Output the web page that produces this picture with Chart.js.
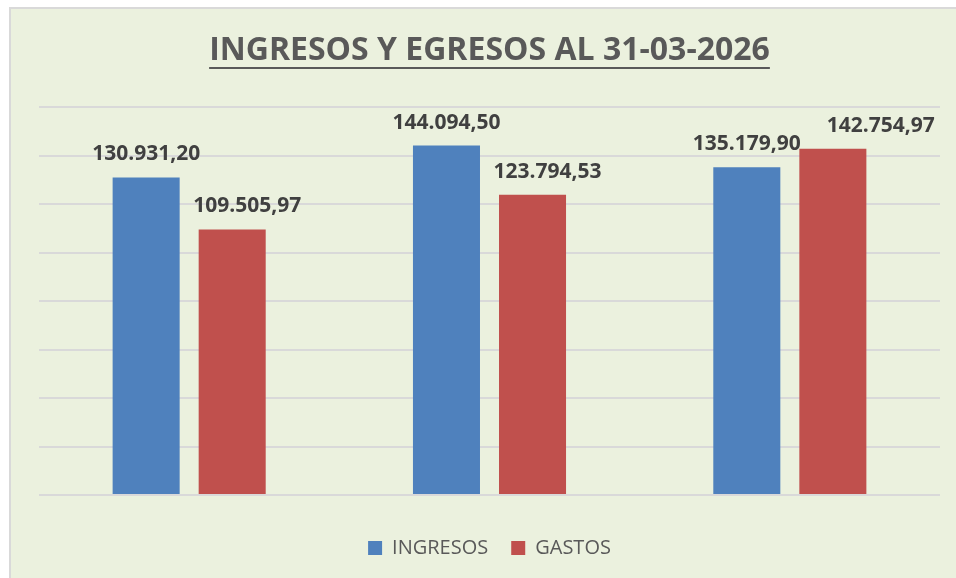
<!DOCTYPE html>
<html>
<head>
<meta charset="utf-8">
<script src="https://cdn.jsdelivr.net/npm/chart.js@4.4.1/dist/chart.umd.min.js"></script>
<style>
    html, body { margin: 0; padding: 0; background: #ffffff; overflow: hidden; }
    #frame {
        position: absolute; left: 9px; top: 7px; width: 980px; height: 600px;
        background: #EBF1DE; border: 2px solid #D9D9D9;
    }
    #chart { position: absolute; left: 0; top: 0; }
</style>
</head>
<body>
<div id="frame"></div>
<canvas id="chart" width="956" height="578"></canvas>
<script>
/* ==================== Data ==================== */
const categories = ['', '', ''];
const ingresos = [130931.20, 144094.50, 135179.90];
const gastos = [109505.97, 123794.53, 142754.97];
const yMin = 0;
const yMax = 160000;
const yStep = 20000;

const TITLE = 'INGRESOS Y EGRESOS AL 31-03-2026';
const FONT = "'Open Sans', 'DejaVu Sans', sans-serif";

// horizontal nudges of the value labels, as placed in the original sheet
const LABEL_SHIFT = [[0, 0, 0], [15, 15, 48]];

/* ==================== Helpers ==================== */
function formatEs(v) {
    const parts = v.toFixed(2).split('.');
    const int = parts[0].replace(/\B(?=(\d{3})+(?!\d))/g, '.');
    return int + ',' + parts[1];
}

/* ==================== Plugins ==================== */
const underlineTitle = {
    id: 'underlineTitle',
    afterDraw(chart) {
        const tb = chart.titleBlock;
        if (!tb) return;
        const ctx = chart.ctx;
        ctx.save();
        ctx.font = "bold 32px " + FONT;
        const w = ctx.measureText(TITLE).width;
        const cx = (tb.left + tb.right) / 2;
        ctx.fillStyle = '#595959';
        ctx.fillRect(cx - w / 2, 67, w, 2);
        ctx.restore();
    }
};

const valueLabels = {
    id: 'valueLabels',
    afterDatasetsDraw(chart) {
        const ctx = chart.ctx;
        ctx.save();
        ctx.font = "bold 21px " + FONT;
        ctx.fillStyle = '#404040';
        ctx.textAlign = 'center';
        ctx.textBaseline = 'alphabetic';
        chart.data.datasets.forEach((ds, di) => {
            chart.getDatasetMeta(di).data.forEach((bar, i) => {
                ctx.fillText(formatEs(ds.data[i]), bar.x + LABEL_SHIFT[di][i], bar.y - 17);
            });
        });
        ctx.restore();
    }
};

/* ==================== Chart ==================== */
new Chart(document.getElementById('chart'), {
    type: 'bar',
    data: {
        labels: categories,
        datasets: [
            { label: 'INGRESOS', data: ingresos, backgroundColor: '#4F81BD' },
            { label: 'GASTOS', data: gastos, backgroundColor: '#C0504D' }
        ]
    },
    options: {
        responsive: false,
        animation: false,
        devicePixelRatio: 1,
        categoryPercentage: 0.573,
        barPercentage: 0.779,
        layout: { padding: { left: 39, right: 16, top: 10, bottom: 10 } },
        plugins: {
            title: {
                display: true,
                text: TITLE,
                color: '#595959',
                font: { family: FONT, size: 32, weight: 'bold' },
                padding: { top: 22, bottom: 36.6 }
            },
            legend: {
                position: 'bottom',
                maxHeight: 55,
                labels: {
                    boxWidth: 14,
                    boxHeight: 14,
                    padding: 23,
                    color: '#595959',
                    font: { family: FONT, size: 20 }
                }
            },
            tooltip: { enabled: false }
        },
        scales: {
            x: {
                display: true,
                grid: { display: false },
                border: { display: false },
                ticks: { display: false },
                afterFit(scale) { scale.height = 20; }
            },
            y: {
                min: yMin,
                max: yMax,
                ticks: { display: false, stepSize: yStep },
                border: { display: false },
                grid: { color: '#D9D9D9', lineWidth: 2, drawTicks: false }
            }
        }
    },
    plugins: [underlineTitle, valueLabels]
});
</script>
</body>
</html>
